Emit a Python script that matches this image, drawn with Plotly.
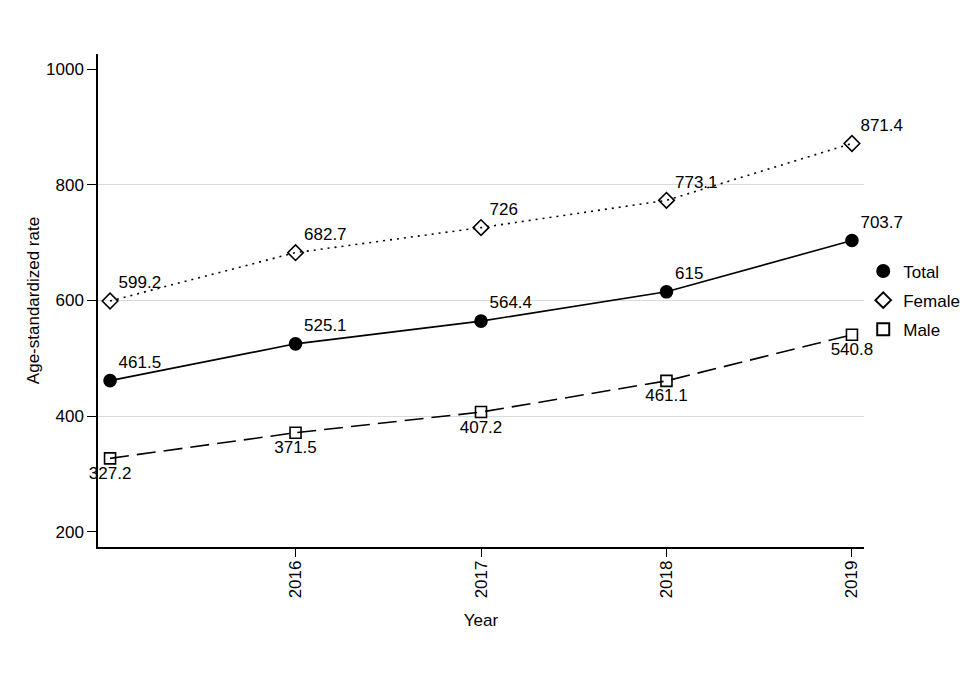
import plotly.graph_objects as go

years = [2015, 2016, 2017, 2018, 2019]
total = [461.5, 525.1, 564.4, 615, 703.7]
female = [599.2, 682.7, 726, 773.1, 871.4]
male = [327.2, 371.5, 407.2, 461.1, 540.8]
x_ticks = [2016, 2017, 2018, 2019]
y_ticks = [200, 400, 600, 800, 1000]
grid_vals = [400, 600, 800]

FONT = "Liberation Sans Narrow, Arial Narrow, Liberation Sans, Arial, sans-serif"
fig = go.Figure()

def fmt(v):
    return ("%g" % v)

series = [
    ("Total", total, "circle", "solid", "top right", 12),
    ("Female", female, "diamond-open", "2px,5px", "top right", 12),
    ("Male", male, "square-open", "19px,8px", "bottom center", 11),
]
for name, vals, sym, dash, tpos, size in series:
    fig.add_trace(go.Scatter(
        x=years, y=vals, mode="lines+markers+text", name=name,
        text=[fmt(v) for v in vals], textposition=tpos,
        textfont=dict(size=17, color="black", family=FONT),
        line=dict(color="black", width=1.6, dash=dash),
        marker=dict(symbol=sym, size=size, color="black",
                    line=dict(color="black", width=1.6)),
        showlegend=False, cliponaxis=False,
    ))
    fig.add_trace(go.Scatter(
        x=[None], y=[None], mode="markers", name=name, legendgroup=name,
        marker=dict(symbol=sym, size=size, color="black",
                    line=dict(color="black", width=1.6)),
    ))

# grid-only overlay axis
fig.add_trace(go.Scatter(x=[None], y=[None], yaxis="y2", showlegend=False))

fig.update_layout(
    width=972, height=692,
    paper_bgcolor="white", plot_bgcolor="white",
    margin=dict(l=90, r=116, t=46, b=153),
    font=dict(family=FONT, size=17, color="black"),
    xaxis=dict(range=[2014.935, 2019.065], tickvals=x_ticks,
               ticktext=[str(t) for t in x_ticks], tickangle=-90,
               ticks="outside", ticklen=8, tickwidth=1.3, tickcolor="black",
               ticklabelstandoff=-3,
               showline=True, linecolor="black", linewidth=1.5,
               showgrid=False, zeroline=False,
               title=dict(text="Year", font=dict(size=17), standoff=17)),
    yaxis=dict(range=[174, 1026], tickvals=y_ticks,
               ticks="outside", ticklen=9, tickwidth=1.3, tickcolor="black",
               showline=True, linecolor="black", linewidth=1.5,
               showgrid=False, zeroline=False,
               title=dict(text="Age-standardized rate", font=dict(size=17), standoff=2)),
    yaxis2=dict(range=[174, 1026], tickvals=grid_vals, overlaying="y",
                showticklabels=False, showgrid=True, gridcolor="#dadada",
                gridwidth=1, zeroline=False, showline=False, ticks=""),
    legend=dict(x=0.999, y=0.5, xanchor="left", yanchor="middle",
                font=dict(size=17), bgcolor="rgba(0,0,0,0)",
                tracegroupgap=4, itemsizing="constant"),
)

fig.write_html("out.html")
